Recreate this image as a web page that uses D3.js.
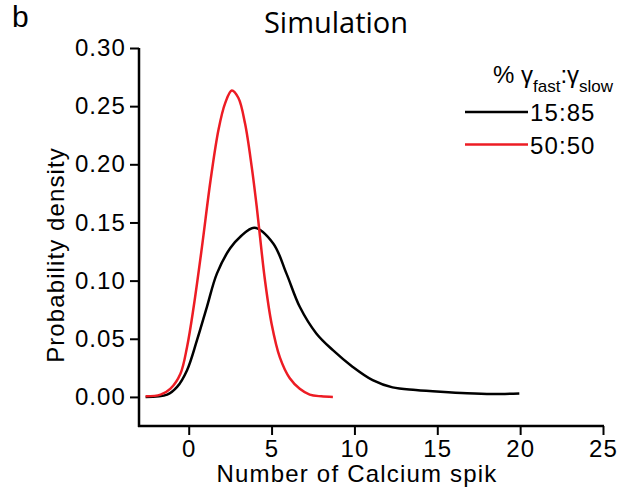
<!DOCTYPE html>
<html>
<head>
<meta charset="utf-8">
<script src="https://cdn.jsdelivr.net/npm/d3@7"></script>
<style>
body { margin: 0; background: #fff; }
text { font-family: "Liberation Sans", Arial, sans-serif; fill: #000; }
</style>
</head>
<body>
<div id="chart"></div>
<script>
var w = 624,
	h = 490,
	padLeft = 139,
	padRight = 603,
	padTop = 48,
	padBottom = 426;

// values
var blackX = [-2.6, -1.3, -0.7, -0.1, 0.5, 1.1, 1.7, 2.5, 3.1, 3.96, 5.1, 5.9, 6.7, 7.7, 8.7, 9.9, 11.1, 12.3, 13.7, 15.2, 16.8, 18.3, 19.95],
	blackY = [0.0, 0.002, 0.0086, 0.023, 0.0488, 0.0775, 0.106, 0.1278, 0.1375, 0.1455, 0.132, 0.106, 0.0775, 0.0546, 0.0402, 0.0258, 0.0144, 0.0082, 0.006, 0.0044, 0.0031, 0.0025, 0.003],
	redX = [-2.6, -1.7, -1.1, -0.5, -0.1, 0.3, 0.8, 1.32, 1.8, 2.2, 2.6, 3.0, 3.4, 3.8, 4.1, 4.3, 4.6, 5.0, 5.5, 6.1, 6.7, 7.3, 8.0, 8.7],
	redY = [0.0005, 0.002, 0.0072, 0.020, 0.043, 0.0775, 0.129, 0.1865, 0.230, 0.2526, 0.2635, 0.257, 0.235, 0.198, 0.164, 0.138, 0.1005, 0.063, 0.034, 0.016, 0.007, 0.002, 0.0005, 0.0],
	xTicks = [0, 5, 10, 15, 20, 25],
	yTicks = [0.00, 0.05, 0.10, 0.15, 0.20, 0.25, 0.30],
	series = ['15:85', '50:50'],
	colors = ['#000000', '#ed1c24'];

var x = d3.scaleLinear().domain([-3, 25]).range([padLeft, padRight]),
	y = d3.scaleLinear().domain([-0.025, 0.30]).range([padBottom, padTop]);

var svg = d3.select('#chart').append('svg')
	.attr('width', w)
	.attr('height', h);

// minor ticks first, then major ones on top
var gx = svg.append('g')
	.attr('transform', 'translate(0,' + padBottom + ')');
gx.call(d3.axisBottom(x).tickValues(d3.range(-2.5, 25, 2.5)).tickSize(5).tickFormat(''));
gx.call(d3.axisBottom(x).tickValues(xTicks).tickSize(9).tickPadding(5).tickFormat(d3.format('d')));

var gy = svg.append('g')
	.attr('transform', 'translate(' + padLeft + ',0)');
gy.call(d3.axisLeft(y).tickValues(d3.range(-0.025, 0.3, 0.025)).tickSize(5).tickFormat(''));
gy.call(d3.axisLeft(y).tickValues(yTicks).tickSize(9).tickPadding(4).tickFormat(d3.format('.2f')));

svg.selectAll('.domain').remove();
svg.selectAll('.tick line').attr('stroke-width', 2);
svg.selectAll('.tick text')
	.style('font-size', '24px')
	.style('letter-spacing', '1.1px')
	.style('font-family', '"Liberation Sans", Arial, sans-serif');

gx.append('line').attr('x1', padLeft - 1).attr('x2', padRight + 1).attr('stroke', '#000').attr('stroke-width', 2.5);
gy.append('line').attr('y1', padTop).attr('y2', padBottom + 1).attr('stroke', '#000').attr('stroke-width', 2.5);

// curves
var line = d3.line()
	.x(function(d) { return x(d[0]); })
	.y(function(d) { return y(d[1]); })
	.curve(d3.curveCatmullRom.alpha(0.5));

svg.append('path')
	.datum(d3.zip(blackX, blackY))
	.attr('d', line)
	.attr('fill', 'none')
	.attr('stroke', colors[0])
	.attr('stroke-width', 2.5);

svg.append('path')
	.datum(d3.zip(redX, redY))
	.attr('d', line)
	.attr('fill', 'none')
	.attr('stroke', colors[1])
	.attr('stroke-width', 2.5);

// labels
svg.append('text').attr('x', 12).attr('y', 27)
	.style('font-size', '30px').text('b');

svg.append('text').attr('x', 336).attr('y', 33)
	.attr('text-anchor', 'middle')
	.style('font-family', '"Open Sans", "Noto Sans", sans-serif')
	.style('font-size', '29px').text('Simulation');

svg.append('text').attr('x', 357).attr('y', 482)
	.attr('text-anchor', 'middle')
	.style('font-size', '24px').style('letter-spacing', '1.2px')
	.text('Number of Calcium spik');

svg.append('text')
	.attr('transform', 'translate(64,255) rotate(-90)')
	.attr('text-anchor', 'middle')
	.style('font-size', '24px').style('letter-spacing', '1.1px')
	.text('Probability density');

// legend
var head = svg.append('text').attr('x', 493).attr('y', 83)
	.style('font-size', '24px');
head.append('tspan').text('% \u03b3');
head.append('tspan').attr('dy', 9).style('font-size', '17px').text('fast');
head.append('tspan').attr('dy', -9).text(':\u03b3');
head.append('tspan').attr('dy', 9).style('font-size', '17px').text('slow');

var leg = svg.selectAll('.leg')
	.data(series)
	.enter().append('g')
	.attr('class', 'leg')
	.attr('transform', function(d, i) { return 'translate(0,' + (112 + i * 32.5) + ')'; });

leg.append('line')
	.attr('x1', 465).attr('x2', 528)
	.attr('stroke', function(d, i) { return colors[i]; })
	.attr('stroke-width', 2.5);

leg.append('text')
	.attr('x', 530).attr('y', 9)
	.style('font-size', '24px').style('letter-spacing', '1.1px')
	.text(function(d) { return d; });
</script>
</body>
</html>
